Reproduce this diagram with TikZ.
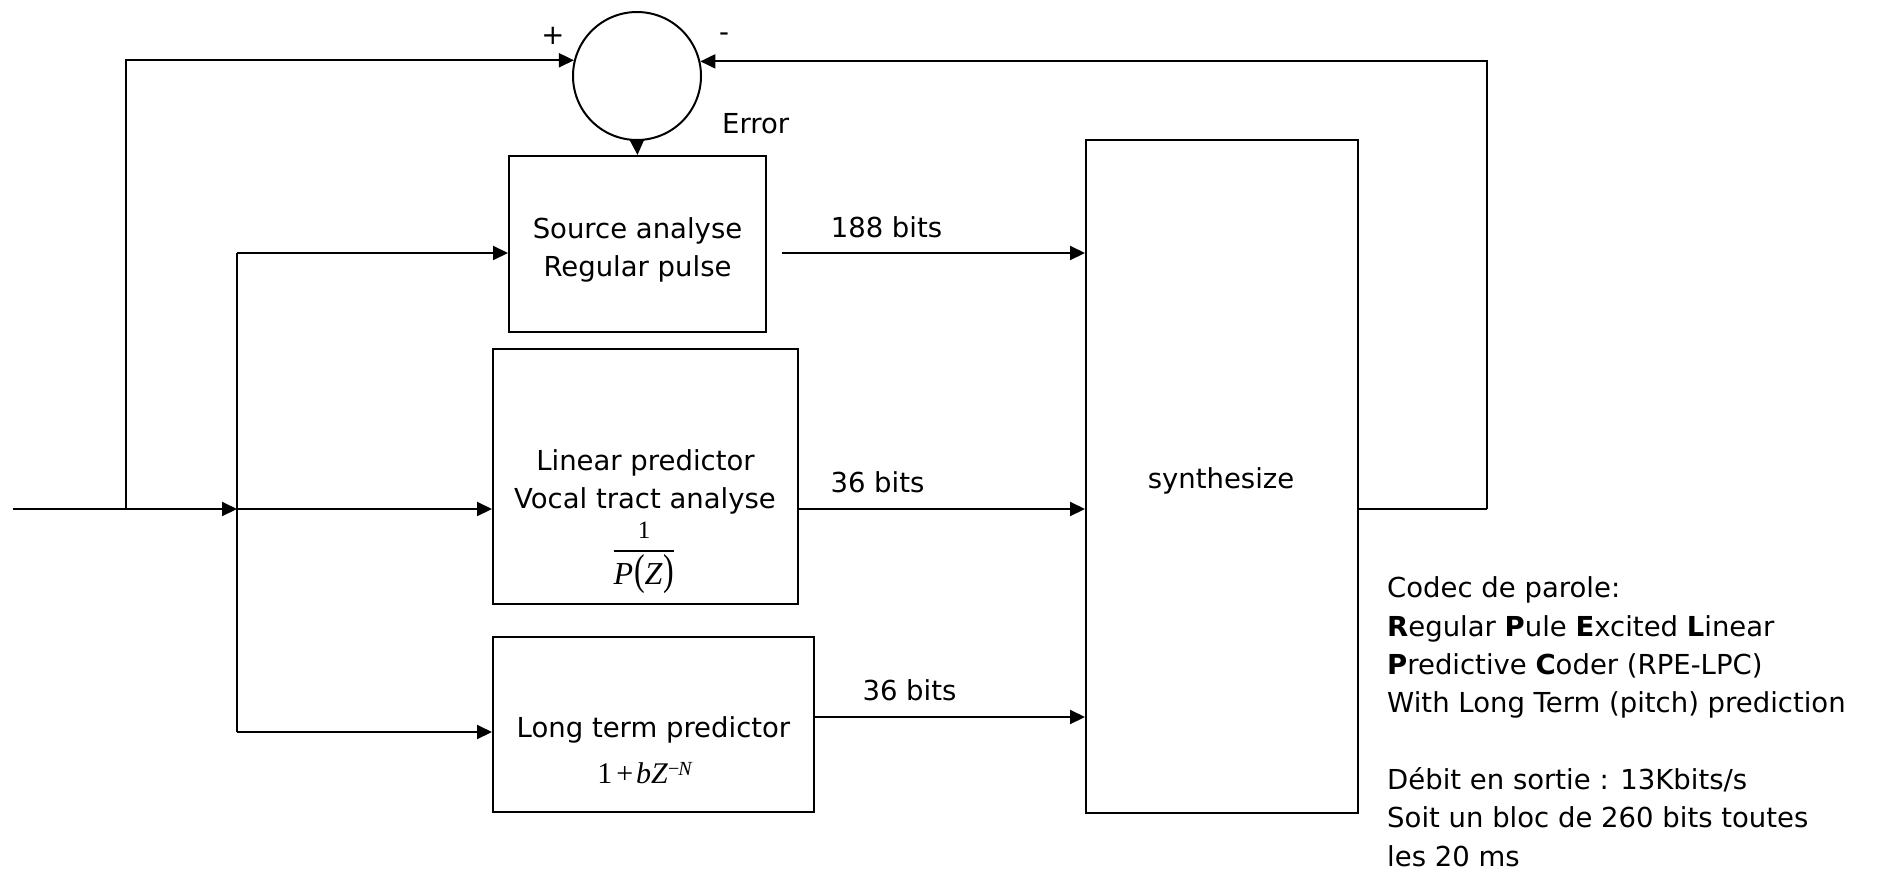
\documentclass[tikz,border=0pt]{standalone}
\usepackage{fontspec}
\usepackage{graphicx}
\setmainfont{DejaVu Sans}
\newfontfamily\tms{Liberation Serif}
\usetikzlibrary{arrows.meta}
\newcommand\lpfrac{\vbox{%
  \setbox0=\hbox{\tms\fontsize{32}{32}\selectfont\itshape P\/\kern1pt\scalebox{1}[1.35]{\upshape(}Z\/\kern1pt\scalebox{1}[1.35]{\upshape)}}%
  \hbox to \wd0{\hfil\tms\fontsize{25}{25}\selectfont 1\hfil}%
  \kern11pt\hrule height 1.8pt width \wd0\kern3pt
  \box0}}
\begin{document}
\begin{tikzpicture}[x=1pt,y=-1pt,
  every node/.style={font=\fontsize{27.5}{38.3}\selectfont, inner sep=0pt},
  box/.style={draw, line width=2pt, rectangle},
  conn/.style={line width=2pt, line join=miter},
  arr/.style={conn, -{Triangle[length=15pt,width=14pt]}},
  lbl/.style={anchor=base},
]
\useasboundingbox (0,0) rectangle (1885,871);

% blocks
\node[draw, circle, line width=2pt, minimum size=128pt] (sum) at (637,76) {};
\node[box, minimum width=257pt, minimum height=176pt] (src) at (637.5,244) {};
\node[box, minimum width=305pt, minimum height=255pt] (lp) at (645.5,476.5) {};
\node[box, minimum width=321pt, minimum height=175pt] (ltp) at (653.5,724.5) {};
\node[box, minimum width=272pt, minimum height=673pt] (syn) at (1222,476.5) {};

% texts in blocks
\node[lbl] (srcA) at (637.5,238) {Source analyse};
\node[lbl] (srcB) at (637.5,276) {Regular pulse};
\node[lbl] (lpA) at (645.5,470) {Linear predictor};
\node[lbl] (lpB) at (645,508) {Vocal tract analyse};
\node[anchor=north] (lpF) at (644,522) {\lpfrac};
\node[lbl] (ltpA) at (653.5,737) {Long term predictor};
\node[lbl] (ltpF) at (645,783) {\tms\fontsize{30}{30}\selectfont 1\kern4pt+\kern3pt\textit{bZ}\raisebox{8pt}{\fontsize{20}{20}\selectfont −\kern-1pt\textit{N}}};
\node[lbl] (synT) at (1221,488) {synthesize};

% labels
\node[lbl] (l188) at (886.5,237) {188 bits};
\node[lbl] (l36a) at (877.5,492) {36 bits};
\node[lbl] (l36b) at (909.5,700) {36 bits};
\node[anchor=base west] (err) at (722,133) {Error};
\node (plus) at (553,36) {+};
\node (minus) at (724,37) {-};

\node[anchor=base west, align=left] (note) at (1387,866) {Codec de parole:\\
\textbf{R}egular \textbf{P}ule \textbf{E}xcited \textbf{L}inear\\
\textbf{P}redictive \textbf{C}oder (RPE-LPC)\\
With Long Term (pitch) prediction\\
~\\
Débit en sortie : 13Kbits/s\\
Soit un bloc de 260 bits toutes\\
les 20 ms};

% coordinates
\coordinate (in) at (13,509);
\coordinate (b1) at (126,509);
\coordinate (b2) at (237,509);
\coordinate (bt) at (237,253);
\coordinate (bb) at (237,732);
\coordinate (s1) at (782,253);
\coordinate (o3) at ([yshift=7.5pt]ltp.east);
\coordinate (fb) at (1487,509);

% connectors
\draw[arr] (in) -- (b2);
\draw[arr] (b2) -- (b2 -| lp.west);
\draw[arr] (b1) |- (sum.166.45);
\draw[conn] (bt) -- (bb);
\draw[arr] (bt) -- (bt -| src.west);
\draw[arr] (bb) -- (bb -| ltp.west);
\draw[arr] (sum.south) -- (src.north);
\draw[arr] (s1) -- (s1 -| syn.west);
\draw[arr] (b2 -| lp.east) -- (b2 -| syn.west);
\draw[arr] (o3) -- (o3 -| syn.west);
\draw[conn] (b2 -| syn.east) -- (fb);
\draw[arr] (fb) |- (sum.13.55);
\end{tikzpicture}
\end{document}
